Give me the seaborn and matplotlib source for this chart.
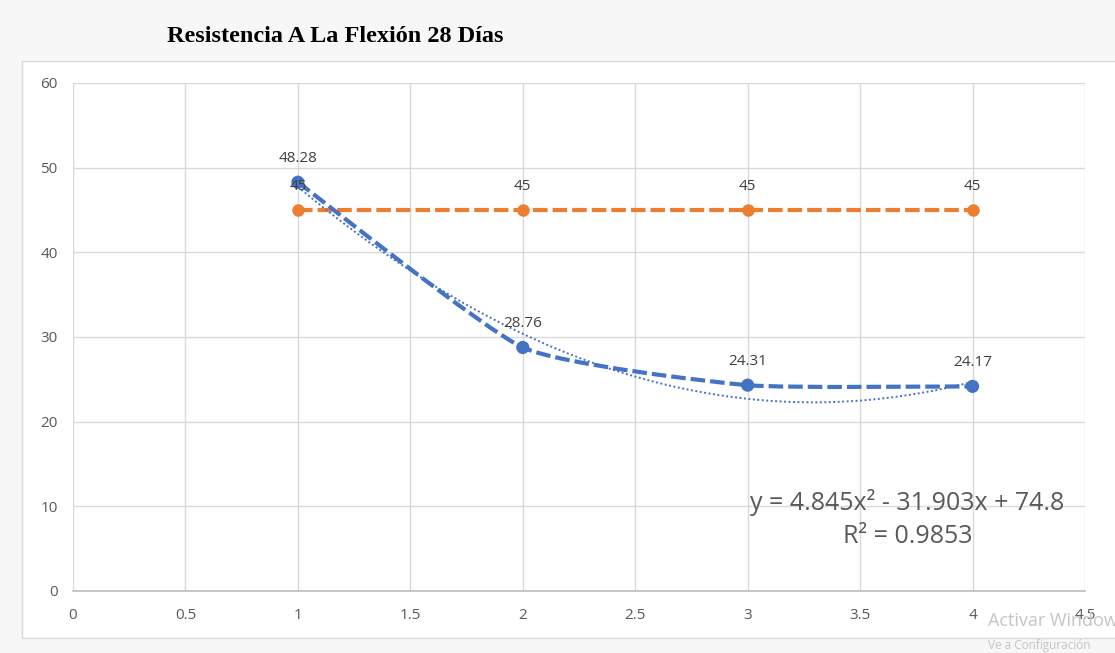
import numpy as np
import pandas as pd
import seaborn as sns
import matplotlib
matplotlib.use("Agg")
import matplotlib.pyplot as plt
from matplotlib.path import Path
from matplotlib.patches import PathPatch, Rectangle

# ---- data ----
x_vals = [1, 2, 3, 4]
resistencia = [48.28, 28.76, 24.31, 24.17]
referencia = [45, 45, 45, 45]
x_ticks = [0, 0.5, 1, 1.5, 2, 2.5, 3, 3.5, 4, 4.5]
y_ticks = [0, 10, 20, 30, 40, 50, 60]
title = "Resistencia A La Flexión 28 Días"
eq_text = "y = 4.845x² - 31.903x + 74.8"
r2_text = "R² = 0.9853"

BLUE = "#4472C4"
ORANGE = "#ED7D31"
GRID = "#d9d9d9"
TXT = "#595959"

sns.set_theme(style="white")
plt.rcParams["font.family"] = ["Open Sans", "DejaVu Sans"]

fig = plt.figure(figsize=(11.15, 6.53), dpi=100, facecolor="#f7f7f7")
# white chart area box
fig.patches.append(Rectangle((22 / 1115, 1 - 638 / 653), 1.2, (638 - 61) / 653,
                             transform=fig.transFigure, facecolor="white",
                             edgecolor="#d9d9d9", linewidth=1, zorder=-5))

ax = fig.add_axes([73 / 1115, 1 - 591 / 653, (1085 - 73) / 1115, (591 - 83) / 653])
ax.set_zorder(2)
ax.set_facecolor("white")

df_b = pd.DataFrame({"x": x_vals, "y": resistencia})
df_o = pd.DataFrame({"x": x_vals, "y": referencia})

# orange series
sns.lineplot(data=df_o, x="x", y="y", ax=ax, color=ORANGE, linewidth=3,
             linestyle=(0, (3.5, 1.2)), marker="o", markersize=9,
             markeredgewidth=0, zorder=3)

# blue series: smoothed dashed line (Bezier through data points)
px = np.array(x_vals, float)
py = np.array(resistencia, float)
P = np.column_stack([px, py])
Pe = np.vstack([P[0], P, P[-1]])
verts = [tuple(P[0])]
codes = [Path.MOVETO]
for i in range(len(P) - 1):
    p0, p1, p2, p3 = Pe[i], Pe[i + 1], Pe[i + 2], Pe[i + 3]
    c1 = p1 + (p2 - p0) / 12.0
    c2 = p2 - (p3 - p1) / 12.0
    verts += [tuple(c1), tuple(c2), tuple(p2)]
    codes += [Path.CURVE4] * 3
ax.add_patch(PathPatch(Path(verts, codes), facecolor="none", edgecolor=BLUE,
                       linewidth=3, linestyle=(0, (3.5, 1.2)), zorder=4))
sns.scatterplot(data=df_b, x="x", y="y", ax=ax, color=BLUE, s=90,
                edgecolor="none", zorder=5)

# polynomial trendline (fit of the blue data)
coef = np.polyfit(px, py, 2)
xt = np.linspace(px.min(), px.max(), 200)
ax.plot(xt, np.polyval(coef, xt), color=BLUE, linewidth=1.4,
        linestyle=(0, (1, 1.3)), zorder=4)

# data labels
for xv, yv in zip(x_vals, referencia):
    ax.annotate(f"{yv:g}", (xv, yv), xytext=(0, 17), textcoords="offset points",
                ha="center", va="center", fontsize=11, color="#404040", zorder=6)
for xv, yv in zip(x_vals, resistencia):
    ax.annotate(f"{yv:.2f}", (xv, yv), xytext=(0, 17), textcoords="offset points",
                ha="center", va="center", fontsize=11, color="#404040", zorder=6)

# equation
ax.text(3.71, 10.5, eq_text, ha="center", va="center", fontsize=18, color=TXT, zorder=6)
ax.text(3.71, 6.4, r2_text, ha="center", va="center", fontsize=18, color=TXT, zorder=6)

ax.set_xlim(0, 4.5)
ax.set_ylim(0, 60)
ax.set_xticks(x_ticks)
ax.set_xticklabels([f"{t:g}" for t in x_ticks])
ax.set_yticks(y_ticks)
ax.tick_params(axis="both", length=0, labelsize=11, colors=TXT)
ax.tick_params(axis="x", pad=12)
ax.tick_params(axis="y", pad=11)
ax.grid(True, color=GRID, linewidth=1)
ax.set_axisbelow(True)
for s in ["top", "right", "left"]:
    ax.spines[s].set_visible(False)
ax.spines["bottom"].set_color("#bfbfbf")
ax.set_xlabel("")
ax.set_ylabel("")

fig.text(335 / 1115, 1 - 37 / 653, title, ha="center", va="center",
         fontsize=17.5, fontweight="bold", family="Liberation Serif", color="black")

# OS watermark visible in the screenshot
fig.text(988 / 1115, 1 - 621 / 653, "Activar Windows", ha="left", va="center",
         fontsize=13, color="#c4c4c4", zorder=10)
fig.text(988 / 1115, 1 - 645 / 653, "Ve a Configuración", ha="left", va="center",
         fontsize=8.5, color="#c4c4c4", zorder=10)

fig.savefig("out.png", dpi=100, facecolor=fig.get_facecolor())
